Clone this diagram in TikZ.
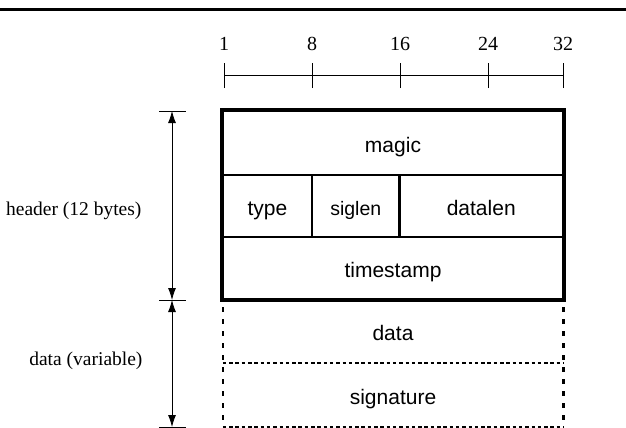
\documentclass[tikz,border=0pt]{standalone}
\usepackage{fontspec}
\setmainfont{Liberation Serif}
\setsansfont{Liberation Sans}
\usepackage{tikz}
\usetikzlibrary{arrows.meta,positioning,calc}
\tikzset{
  field/.style={draw, line width=2.4pt, inner sep=0pt, minimum width=#1,
    text height=21pt, text depth=3pt,
    font=\sffamily\fontsize{21}{24}\selectfont},
  field/.default=340pt,
  optfield/.style={inner sep=0pt, minimum width=340pt,
    text height=21pt, text depth=3pt,
    font=\sffamily\fontsize{21}{24}\selectfont},
  hdash/.style={line width=2.4pt, dash pattern=on 3.5pt off 2.8pt},
  vdash/.style={line width=2.6pt, dash pattern=on 4.5pt off 7.5pt},
  dim/.style={{Latex[length=12pt,width=8pt]}-{Latex[length=12pt,width=8pt]}, line width=0.8pt},
}

\begin{document}
\begin{tikzpicture}[x=1pt, y=-1pt,
  lbl/.style={font=\fontsize{19.5}{22}\selectfont, anchor=base east},
  digit/.style={font=\fontsize{20}{22}\selectfont, anchor=base},
  tick/.style={line width=0.8pt}]
  \useasboundingbox (0,0) rectangle (626,428);
  \coordinate (ruleL) at (0,10);
  \coordinate (ruleR) at (626,10);
  \draw[line width=3pt] (ruleL) -- (ruleR);
  % bit ruler
  \foreach \x/\n in {224/1, 312/8, 400/16, 488/24, 563/32} {
    \node[digit] (bit\n) at (\x,50.7) {\n};
    \coordinate (tk\n) at (\x,75);
    \draw[tick] ([yshift=-13pt]tk\n) -- ([yshift=12pt]tk\n);
  }
  \draw[tick] (tk1) -- (tk32);
  % header
  \node[field, minimum height=64pt] (magic) at (393,143) {magic};
  \node[field=89pt, minimum height=62pt] (type) at (267.5,206) {type};
  \node[field=87.5pt, minimum height=62pt, font=\sffamily\fontsize{19.5}{22}\selectfont] (siglen) at (355.75,206) {siglen};
  \node[field=163.5pt, minimum height=62pt] (datalen) at (481.25,206) {datalen};
  \node[field, minimum height=62.5pt] (stamp) at (393,268.25) {timestamp};
  \draw[line width=3pt] (magic.north west) rectangle (stamp.south east);
  % payload
  \node[optfield, minimum height=63.5pt] (data) at (393,331.25) {data};
  \node[optfield, minimum height=64pt] (sig) at (393,395) {signature};
  \draw[hdash] (data.south west) -- (data.south east);
  \draw[hdash] (sig.south west) -- (sig.south east);
  \draw[vdash] ([yshift=4pt]data.north west) -- (sig.south west);
  \draw[vdash] ([yshift=4pt]data.north east) -- (sig.south east);
  % sizes
  \coordinate (hdrtop) at (172,111);
  \coordinate (hdrbot) at (172,300);
  \coordinate (datbot) at (172,427);
  \foreach \c in {hdrtop, hdrbot, datbot}
    \draw[tick] ([xshift=-13pt]\c) -- ([xshift=14pt]\c);
  \draw[dim] (hdrtop) -- (hdrbot);
  \draw[dim] (hdrbot) -- (datbot);
  \node[lbl] (hdrlbl) at (145,215) {header (12 bytes)};
  \node[lbl] (datlbl) at (146,365) {data (variable)};
\end{tikzpicture}
\end{document}
